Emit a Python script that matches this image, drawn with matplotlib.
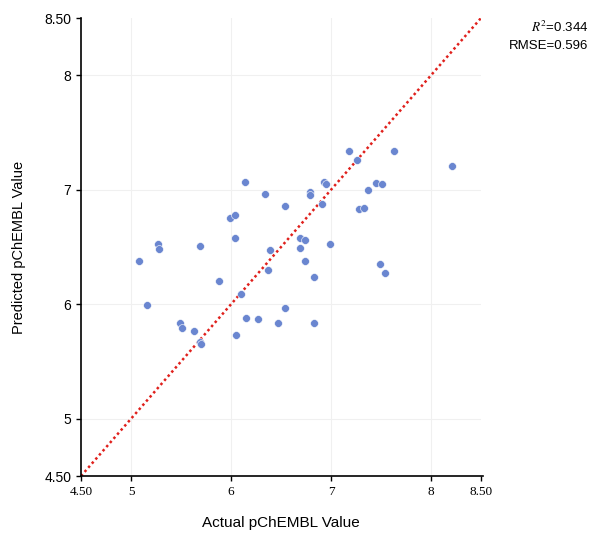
import matplotlib
matplotlib.use('Agg')
import matplotlib.pyplot as plt

plt.rcParams['mathtext.fontset'] = 'stix'

# Actual vs predicted pChEMBL values
actual = [5.08, 5.16, 5.27, 5.28, 5.49, 5.51, 5.63, 5.69, 5.70, 5.69,
          5.88, 5.99, 6.04, 6.04, 6.05, 6.10, 6.14, 6.15, 6.27, 6.34,
          6.37, 6.39, 6.47, 6.54, 6.54, 6.69, 6.74, 6.69, 6.74, 6.83,
          6.83, 6.79, 6.79, 6.91, 6.93, 6.95, 6.99, 7.18, 7.26, 7.37,
          7.45, 7.51, 7.28, 7.33, 7.49, 7.54, 7.63, 8.21]
predicted = [6.38, 5.99, 6.53, 6.48, 5.84, 5.79, 5.77, 5.67, 5.65, 6.51,
             6.20, 6.75, 6.78, 6.58, 5.73, 6.09, 7.07, 5.88, 5.87, 6.96,
             6.30, 6.47, 5.84, 6.86, 5.97, 6.58, 6.56, 6.49, 6.38, 6.24,
             5.84, 6.98, 6.95, 6.88, 7.07, 7.05, 6.53, 7.34, 7.26, 7.00,
             7.06, 7.05, 6.83, 6.84, 6.35, 6.27, 7.34, 7.21]

ticks = [4.5, 5, 6, 7, 8, 8.5]
tick_labels = ['4.50', '5', '6', '7', '8', '8.50']
r2 = 0.344
rmse = 0.596

fig = plt.figure(figsize=(5.9, 5.33), dpi=100)
ax = fig.add_axes([0.1373, 0.1069, 0.678, 0.8593])

# light grid at the integer ticks
for v in [5, 6, 7, 8]:
    ax.axvline(v, color='#f0f0f0', lw=0.8, zorder=0)
    ax.axhline(v, color='#f0f0f0', lw=0.8, zorder=0)

ax.scatter(actual, predicted, s=32, color='#6a86d0', edgecolor='white',
           linewidth=0.4, zorder=3)

# identity line
ax.plot([4.5, 8.5], [4.5, 8.5], color='#e0201c', linestyle=(0, (1, 1.2)),
        lw=1.8, zorder=2)

ax.set_xlim(4.5, 8.5)
ax.set_ylim(4.5, 8.5)
ax.set_xticks(ticks)
ax.set_xticklabels(tick_labels, family='Liberation Serif', fontsize=9.5)
ax.set_yticks(ticks)
ax.set_yticklabels(tick_labels, family='Liberation Sans', fontsize=10)
ax.tick_params(direction='out', length=3.5, width=1, color='black')

for s in ['top', 'right']:
    ax.spines[s].set_visible(False)
for s in ['left', 'bottom']:
    ax.spines[s].set_linewidth(1.2)
ax.spines['bottom'].set_bounds(4.5, 8.52)

ax.set_xlabel('Actual pChEMBL Value', family='Liberation Sans', fontsize=11,
              labelpad=13)
ax.set_ylabel('Predicted pChEMBL Value', family='Liberation Sans', fontsize=10.5,
              labelpad=13)

fig.text(0.997, 0.948, r'$R^2$=' + f'{r2:.3f}', ha='right', va='center',
         family='Liberation Sans', fontsize=9.5)
fig.text(0.997, 0.914, f'RMSE={rmse:.3f}', ha='right', va='center',
         family='Liberation Sans', fontsize=9.5)

fig.savefig('out.png', dpi=100)
